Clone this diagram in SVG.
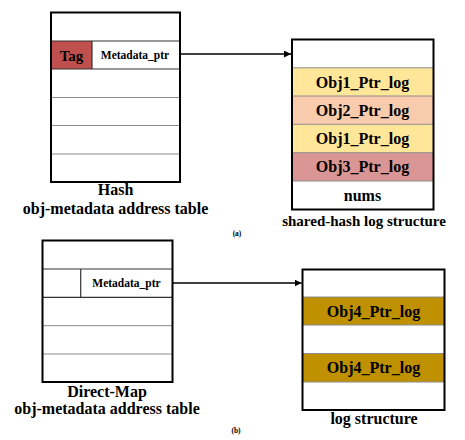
<svg xmlns="http://www.w3.org/2000/svg" width="465" height="440" viewBox="0 0 465 440">
<style>
text{font-family:"Liberation Serif","Times New Roman",serif;font-weight:bold;fill:#000;text-anchor:middle}
.cap{font-size:16px}
.cap2{font-size:15px}
.lbl{font-size:16px}
.tag{font-size:15px}
.ptr{font-size:11.5px}
.sub{font-size:7.5px}
.outer{fill:none;stroke:#000;stroke-width:2}
.row{stroke:#8c8c8c;stroke-width:1}
.dark{stroke:#333;stroke-width:1.2}
.conn{stroke:#000;stroke-width:1.3;fill:none}
</style>
<defs>
<marker id="ah" viewBox="0 0 10 10" refX="10" refY="5" markerWidth="7" markerHeight="7" markerUnits="userSpaceOnUse" orient="auto">
<path d="M0,0 L10,5 L0,10 z" fill="#000"/>
</marker>
</defs>
<rect width="465" height="440" fill="#fff"/>

<g id="hash-table">
<rect x="51" y="41" width="41" height="28" fill="#c0504d"/>
<line class="dark" x1="51" y1="41" x2="180" y2="41"/>
<line class="dark" x1="51" y1="69" x2="180" y2="69"/>
<line class="dark" x1="92" y1="41" x2="92" y2="69"/>
<line class="row" x1="51" y1="97.5" x2="180" y2="97.5"/>
<line class="row" x1="51" y1="125.5" x2="180" y2="125.5"/>
<line class="row" x1="51" y1="154" x2="180" y2="154"/>
<rect class="outer" x="51" y="12.5" width="129" height="169.5"/>
<text class="tag" x="71.5" y="60.5">Tag</text>
<text class="ptr" x="135" y="59">Metadata_ptr</text>
<text class="cap" x="115.5" y="195">Hash</text>
<text class="cap" x="115.5" y="214">obj-metadata address table</text>
</g>

<g id="shared-hash-log">
<rect x="292" y="67.8" width="141.5" height="28.2" fill="#ffe699"/>
<rect x="292" y="96" width="141.5" height="28.3" fill="#f8cbad"/>
<rect x="292" y="124.3" width="141.5" height="28.4" fill="#ffe699"/>
<rect x="292" y="152.7" width="141.5" height="28.3" fill="#da9694"/>
<line class="row" x1="292" y1="67.8" x2="433.5" y2="67.8"/>
<line class="row" x1="292" y1="96" x2="433.5" y2="96"/>
<line class="row" x1="292" y1="124.3" x2="433.5" y2="124.3"/>
<line class="row" x1="292" y1="152.7" x2="433.5" y2="152.7"/>
<line class="row" x1="292" y1="181" x2="433.5" y2="181"/>
<rect class="outer" x="292" y="39.5" width="141.5" height="170"/>
<text class="lbl" x="362.5" y="87.5">Obj1_Ptr_log</text>
<text class="lbl" x="362.5" y="115.7">Obj2_Ptr_log</text>
<text class="lbl" x="362.5" y="144">Obj1_Ptr_log</text>
<text class="lbl" x="362.5" y="172.4">Obj3_Ptr_log</text>
<text class="lbl" x="362.5" y="200.5">nums</text>
<text class="cap2" x="364" y="226">shared-hash log structure</text>
</g>

<text class="sub" x="237" y="236">(a)</text>

<g id="direct-map-table">
<line class="dark" x1="42.5" y1="269" x2="172.5" y2="269"/>
<line class="dark" x1="42.5" y1="297.3" x2="172.5" y2="297.3"/>
<line class="dark" x1="80.7" y1="269" x2="80.7" y2="297.3"/>
<line class="row" x1="42.5" y1="325.7" x2="172.5" y2="325.7"/>
<line class="row" x1="42.5" y1="354" x2="172.5" y2="354"/>
<rect class="outer" x="42.5" y="240.5" width="130" height="141.5"/>
<text class="ptr" x="126.5" y="287">Metadata_ptr</text>
<text class="cap" x="107" y="397">Direct-Map</text>
<text class="cap" x="107" y="414">obj-metadata address table</text>
</g>

<g id="log-structure">
<rect x="302.5" y="297" width="142" height="28" fill="#bf9000"/>
<rect x="302.5" y="353.5" width="142" height="28.5" fill="#bf9000"/>
<line class="row" x1="302.5" y1="297" x2="444.5" y2="297"/>
<line class="row" x1="302.5" y1="325" x2="444.5" y2="325"/>
<line class="row" x1="302.5" y1="353.5" x2="444.5" y2="353.5"/>
<line class="row" x1="302.5" y1="382" x2="444.5" y2="382"/>
<rect class="outer" x="302.5" y="269.5" width="142" height="140.5"/>
<text class="lbl" x="373.5" y="316.5">Obj4_Ptr_log</text>
<text class="lbl" x="373.5" y="373.2">Obj4_Ptr_log</text>
<text class="cap" x="374" y="424">log structure</text>
</g>

<text class="sub" x="236" y="433">(b)</text>

<g id="connectors">
<line class="conn" x1="180" y1="54" x2="291" y2="54" marker-end="url(#ah)"/>
<line class="conn" x1="172.5" y1="283" x2="301.5" y2="283" marker-end="url(#ah)"/>
</g>
</svg>
